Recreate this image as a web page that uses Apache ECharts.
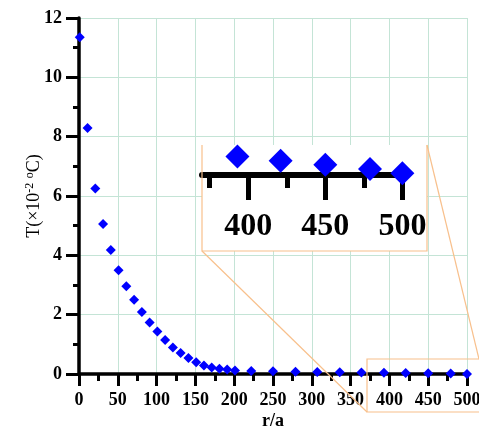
<!DOCTYPE html>
<html><head><meta charset="utf-8">
<script src="https://cdn.jsdelivr.net/npm/echarts@6/dist/echarts.min.js"></script>
<style>html,body{margin:0;padding:0;background:#fff}#c{width:479px;height:430px}</style>
</head><body><div id="c"></div>
<script>
// r/a positions
const rA = [1,11,21,31,41,51,61,71,81,91,101,111,121,131,141,151,161,171,181,191,201,
            222,250,279,307,336,364,393,421,450,479,500];
// T (x10^-2 degC)
const tVal = [11.35,8.29,6.25,5.06,4.18,3.50,2.96,2.50,2.09,1.74,1.43,1.15,0.89,0.71,0.54,0.40,0.29,0.22,0.18,0.15,0.12,
              0.10,0.09,0.08,0.07,0.06,0.05,0.040,0.031,0.022,0.013,0.004];
const xTicks = [0,50,100,150,200,250,300,350,400,450,500];
const yTicks = [0,2,4,6,8,10,12];
const insetMajor = [400,450,500];
const insetMinor = [375,425,475];

const pts = rA.map((r,i)=>[r,tVal[i]]);
const serif = '"Liberation Serif","DejaVu Serif",serif';
const orange = '#f8c08c';
const green = '#c4e4d6';

const chart = echarts.init(document.getElementById('c'));
chart.setOption({
  animation:false,
  grid:[
    {left:79, right:12, top:18, bottom:56, outerBoundsMode:'none', containLabel:false},
    {left:202, top:145, width:205, height:30, outerBoundsMode:'none', containLabel:false}
  ],
  xAxis:[
    {gridIndex:0, type:'value', min:xTicks[0], max:xTicks[xTicks.length-1], interval:50,
     name:'r/a', nameLocation:'middle', nameGap:38, nameMoveOverlap:false,
     nameTextStyle:{fontFamily:serif, fontWeight:'bold', fontSize:18, color:'#000'},
     axisLine:{lineStyle:{color:'#000', width:3.5}},
     axisTick:{show:true, length:12, lineStyle:{color:'#000', width:3}},
     minorTick:{show:true, splitNumber:2, length:7, lineStyle:{color:'#000', width:3}},
     axisLabel:{fontFamily:serif, fontWeight:'bold', fontSize:18, color:'#000', margin:17},
     splitLine:{show:true, lineStyle:{color:green, width:1}}},
    {gridIndex:1, type:'value', min:370, max:503, z:5, position:'bottom', offset:0,
     axisLine:{lineStyle:{color:'#000', width:6}},
     axisTick:{show:true, length:25, customValues:insetMajor, lineStyle:{color:'#000', width:5}},
     axisLabel:{show:true, customValues:insetMajor, fontFamily:serif, fontWeight:'bold', fontSize:32, color:'#000', margin:36},
     splitLine:{show:false}},
    {gridIndex:1, type:'value', min:370, max:503, z:5, position:'bottom', offset:0,
     axisLine:{show:false},
     axisTick:{show:true, length:13, customValues:insetMinor, lineStyle:{color:'#000', width:5}},
     axisLabel:{show:false},
     splitLine:{show:false}}
  ],
  yAxis:[
    {gridIndex:0, type:'value', min:yTicks[0], max:yTicks[yTicks.length-1], interval:2,
     name:'{a|T(×10}{s|-2}{a| }{s|o}{a|C)}', nameLocation:'middle', nameGap:35, nameMoveOverlap:false,
     nameTextStyle:{rich:{
       a:{fontFamily:serif, fontSize:18, color:'#000', lineHeight:20},
       s:{fontFamily:serif, fontSize:12, color:'#000', verticalAlign:'top', lineHeight:20, padding:[0,0,7,0]}
     }},
     axisLine:{lineStyle:{color:'#000', width:3.5}},
     axisTick:{show:true, length:13, lineStyle:{color:'#000', width:3}},
     minorTick:{show:true, splitNumber:2, length:6, lineStyle:{color:'#000', width:3}},
     axisLabel:{fontFamily:serif, fontWeight:'bold', fontSize:18, color:'#000', margin:17},
     splitLine:{show:true, lineStyle:{color:green, width:1}}},
    {gridIndex:1, type:'value', min:0, max:0.065, z:5,
     show:false}
  ],
  series:[
    {type:'scatter', xAxisIndex:0, yAxisIndex:0, symbol:'diamond', symbolSize:10,
     itemStyle:{color:'#0000ff', opacity:1}, data:pts, clip:false, z:2},
    {type:'scatter', xAxisIndex:1, yAxisIndex:1, symbol:'diamond', symbolSize:24,
     itemStyle:{color:'#0000ff', opacity:1}, data:pts, clip:true, z:6}
  ],
  graphic:[
    {type:'rect', z:1, shape:{x:202, y:145, width:225, height:106}, style:{fill:'#fff'}},
    {type:'polyline', z:7, shape:{points:[[202,145],[202,251],[427,251],[427,145]]}, style:{stroke:orange, lineWidth:1.2, fill:null}},
    {type:'line', z:7, shape:{x1:202, y1:251, x2:367, y2:412}, style:{stroke:orange, lineWidth:1.2}},
    {type:'line', z:7, shape:{x1:427, y1:145, x2:479, y2:359}, style:{stroke:orange, lineWidth:1.2}},
    {type:'rect', z:7, shape:{x:367, y:359, width:120, height:53}, style:{stroke:orange, lineWidth:1.2, fill:null}}
  ]
});
</script></body></html>
